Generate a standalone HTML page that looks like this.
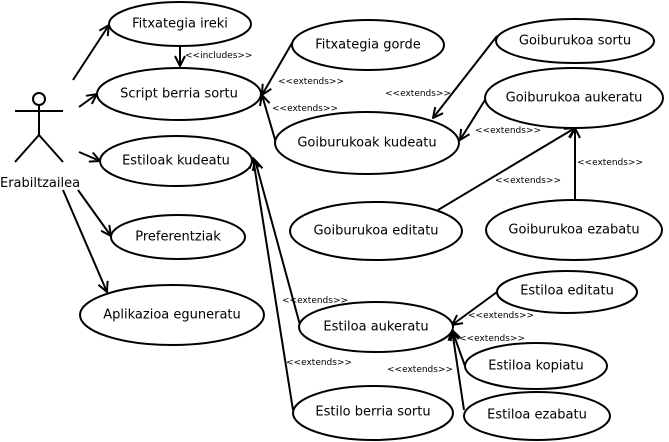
<!DOCTYPE html>
<html><head><meta charset="utf-8"><style>
html,body{margin:0;padding:0;background:#fff;}
svg{display:block;}
text{font-family:"DejaVu Sans","Liberation Sans",sans-serif;fill:#000;}
.t{font-size:13px;text-anchor:middle;dominant-baseline:central;}
.s{font-size:9px;}
ellipse{fill:#fff;stroke:#000;stroke-width:2;}
line,path{stroke:#000;stroke-width:2;fill:none;}
</style></head><body>
<svg width="669" height="442" viewBox="0 0 669 442" xmlns="http://www.w3.org/2000/svg">
<defs>
<marker id="a" viewBox="0 0 12 12" refX="11" refY="6" markerWidth="12" markerHeight="12" markerUnits="userSpaceOnUse" orient="auto">
<path d="M1,1 L11,6 L1,11" style="stroke-width:2"/>
</marker>
</defs>
<!-- actor -->
<circle cx="39" cy="99" r="6" fill="#fff" stroke="#000" stroke-width="2"/>
<line x1="39" y1="105" x2="39" y2="135"/>
<line x1="15" y1="111" x2="63" y2="111"/>
<line x1="39" y1="135" x2="15" y2="162"/>
<line x1="39" y1="135" x2="63" y2="162"/>
<text x="0" y="187" style="font-size:13px">Erabiltzailea</text>

<!-- actor links -->
<line x1="73" y1="80" x2="109" y2="25" marker-end="url(#a)"/>
<line x1="79" y1="107" x2="97" y2="94" marker-end="url(#a)"/>
<line x1="79" y1="152" x2="100" y2="161" marker-end="url(#a)"/>
<line x1="78" y1="190" x2="111" y2="236" marker-end="url(#a)"/>
<line x1="63" y1="190" x2="107" y2="292" marker-end="url(#a)"/>

<!-- include -->
<line x1="180" y1="47" x2="180" y2="66" marker-end="url(#a)"/>
<text x="185" y="58" class="s">&lt;&lt;includes&gt;&gt;</text>

<!-- extends lines -->
<line x1="292" y1="43" x2="262" y2="95" marker-end="url(#a)"/>
<line x1="276" y1="143" x2="262" y2="95" marker-end="url(#a)"/>
<line x1="497" y1="36" x2="433" y2="118" marker-end="url(#a)"/>
<line x1="485" y1="100" x2="460" y2="140" marker-end="url(#a)"/>
<line x1="438" y1="210" x2="575" y2="128" marker-end="url(#a)"/>
<line x1="575" y1="200" x2="575" y2="128" marker-end="url(#a)"/>
<line x1="300" y1="325" x2="255" y2="160" marker-end="url(#a)"/>
<line x1="293" y1="410" x2="253" y2="158" marker-end="url(#a)"/>
<line x1="497" y1="292" x2="452" y2="325" marker-end="url(#a)"/>
<line x1="465" y1="366" x2="452" y2="330" marker-end="url(#a)"/>
<line x1="464" y1="410" x2="452" y2="330" marker-end="url(#a)"/>

<text x="278" y="84" class="s">&lt;&lt;extends&gt;&gt;</text>
<text x="272" y="111" class="s">&lt;&lt;extends&gt;&gt;</text>
<text x="385" y="96" class="s">&lt;&lt;extends&gt;&gt;</text>
<text x="475" y="133" class="s">&lt;&lt;extends&gt;&gt;</text>
<text x="577" y="165" class="s">&lt;&lt;extends&gt;&gt;</text>
<text x="495" y="183" class="s">&lt;&lt;extends&gt;&gt;</text>
<text x="282" y="303" class="s">&lt;&lt;extends&gt;&gt;</text>
<text x="286" y="365" class="s">&lt;&lt;extends&gt;&gt;</text>
<text x="468" y="318" class="s">&lt;&lt;extends&gt;&gt;</text>
<text x="459" y="341" class="s">&lt;&lt;extends&gt;&gt;</text>
<text x="387" y="372" class="s">&lt;&lt;extends&gt;&gt;</text>

<!-- ellipses -->
<ellipse cx="180" cy="24" rx="71" ry="22"/><text class="t" x="180" y="24">Fitxategia ireki</text>
<ellipse cx="179" cy="94" rx="82" ry="26"/><text class="t" x="179" y="94">Script berria sortu</text>
<ellipse cx="176" cy="161" rx="76" ry="25"/><text class="t" x="176" y="161">Estiloak kudeatu</text>
<ellipse cx="178" cy="237" rx="67" ry="22"/><text class="t" x="178" y="237">Preferentziak</text>
<ellipse cx="172" cy="315" rx="92" ry="30"/><text class="t" x="172" y="315">Aplikazioa eguneratu</text>
<ellipse cx="368" cy="45" rx="76" ry="25"/><text class="t" x="368" y="45">Fitxategia gorde</text>
<ellipse cx="367" cy="143" rx="92" ry="31"/><text class="t" x="367" y="143">Goiburukoak kudeatu</text>
<ellipse cx="575" cy="41" rx="79" ry="22"/><text class="t" x="575" y="41">Goiburukoa sortu</text>
<ellipse cx="574" cy="98" rx="89" ry="30"/><text class="t" x="574" y="98">Goiburukoa aukeratu</text>
<ellipse cx="376" cy="231" rx="86" ry="29"/><text class="t" x="376" y="231">Goiburukoa editatu</text>
<ellipse cx="574" cy="230" rx="88" ry="30"/><text class="t" x="574" y="230">Goiburukoa ezabatu</text>
<ellipse cx="376" cy="327" rx="77" ry="25"/><text class="t" x="376" y="327">Estiloa aukeratu</text>
<ellipse cx="567" cy="292" rx="70" ry="21"/><text class="t" x="567" y="291">Estiloa editatu</text>
<ellipse cx="536" cy="366" rx="71" ry="23"/><text class="t" x="536" y="366">Estiloa kopiatu</text>
<ellipse cx="373" cy="413" rx="80" ry="27"/><text class="t" x="373" y="412">Estilo berria sortu</text>
<ellipse cx="537" cy="416" rx="73" ry="24"/><text class="t" x="537" y="415">Estiloa ezabatu</text>
</svg>
</body></html>
